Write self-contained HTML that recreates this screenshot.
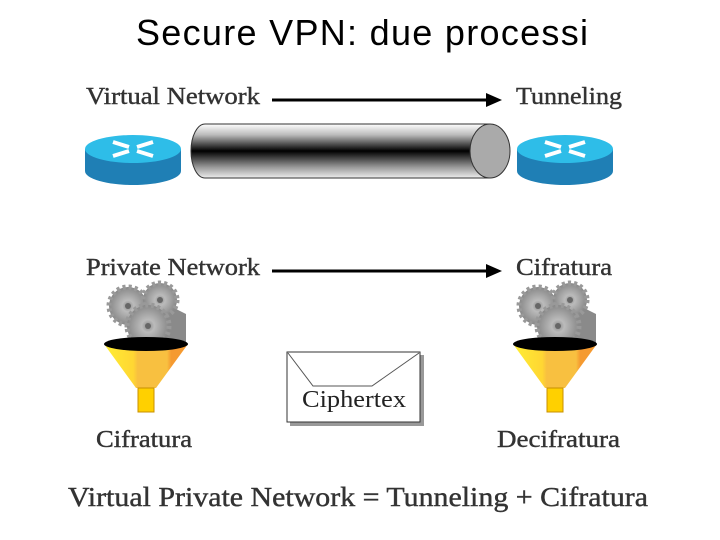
<!DOCTYPE html>
<html><head><meta charset="utf-8"><style>
html,body{margin:0;padding:0;background:#fff;}
svg{display:block}
</style></head><body>
<svg width="720" height="540" viewBox="0 0 720 540" xmlns="http://www.w3.org/2000/svg">
<defs>
<linearGradient id="tube" x1="0" y1="0" x2="0" y2="1">
<stop offset="0" stop-color="#fff"/><stop offset="0.2" stop-color="#bbb"/><stop offset="0.5" stop-color="#000"/><stop offset="0.8" stop-color="#999"/><stop offset="1" stop-color="#eee"/>
</linearGradient>
<linearGradient id="cone" x1="0" y1="0" x2="1" y2="0">
<stop offset="0" stop-color="#ffee33"/><stop offset="0.35" stop-color="#ffd633"/><stop offset="0.4" stop-color="#f8c040"/><stop offset="0.75" stop-color="#f8c040"/><stop offset="0.8" stop-color="#f59a30"/><stop offset="1" stop-color="#f59a30"/>
</linearGradient>
<radialGradient id="gear"><stop offset="0" stop-color="#888"/><stop offset="0.3" stop-color="#bbb"/><stop offset="1" stop-color="#888"/></radialGradient>
<g id="router">
<path d="M0 12 L0 34 A48 14 0 0 0 96 34 L96 12 Z" fill="#1f7fb5"/>
<ellipse cx="48" cy="12" rx="48" ry="14" fill="#2ebde8"/>
<path d="M28 5 L44 10 M28 19 L44 14 M68 5 L52 10 M68 19 L52 14" stroke="#fff" stroke-width="4"/>
</g>
<g id="gears">
<path d="M40 10 L80 30 L80 62 L50 62 Z" fill="#8a8a8a"/>
<circle cx="22" cy="22" r="19" fill="url(#gear)" stroke="#999" stroke-dasharray="3 3" stroke-width="5"/>
<circle cx="54" cy="16" r="17" fill="url(#gear)" stroke="#999" stroke-dasharray="3 3" stroke-width="5"/>
<circle cx="42" cy="42" r="21" fill="url(#gear)" stroke="#999" stroke-dasharray="3 3" stroke-width="5"/>
<circle cx="22" cy="22" r="3" fill="#666"/><circle cx="54" cy="16" r="3" fill="#666"/><circle cx="42" cy="42" r="3" fill="#666"/>
</g>
<g id="funnel">
<path d="M-42 0 L42 0 L10 44 L-10 44 Z" fill="url(#cone)"/>
<ellipse cx="0" cy="0" rx="42" ry="7" fill="#000"/>
<rect x="-8" y="44" width="16" height="24" fill="#ffd000" stroke="#c89000"/>
</g>
</defs>
<text x="362" y="45" text-anchor="middle" font-family="Liberation Sans Narrow, Liberation Sans, sans-serif" font-size="36" textLength="452">Secure VPN: due processi</text>
<g font-family="Liberation Serif, serif" font-size="24" fill="#333" stroke="#333" stroke-width="0.4">
<text x="86" y="104" textLength="174" lengthAdjust="spacingAndGlyphs">Virtual Network</text>
<text x="516" y="104" textLength="106" lengthAdjust="spacingAndGlyphs">Tunneling</text>
<text x="86" y="275" textLength="174" lengthAdjust="spacingAndGlyphs">Private Network</text>
<text x="516" y="275" textLength="96" lengthAdjust="spacingAndGlyphs">Cifratura</text>
<text x="96" y="447" textLength="96" lengthAdjust="spacingAndGlyphs">Cifratura</text>
<text x="497" y="447" textLength="123" lengthAdjust="spacingAndGlyphs">Decifratura</text>
<text x="68" y="506" font-size="27" textLength="580" lengthAdjust="spacingAndGlyphs">Virtual Private Network = Tunneling + Cifratura</text>
</g>
<path d="M272 100 H488" stroke="#000" stroke-width="3"/><path d="M486 93 L502 100 L486 107 Z"/>
<path d="M272 271 H488" stroke="#000" stroke-width="3"/><path d="M486 264 L502 271 L486 278 Z"/>
<use href="#router" x="85" y="137"/>
<use href="#router" x="517" y="137"/>
<path d="M205 124 H490 V178 H205 A14 27 0 0 1 205 124 Z" fill="url(#tube)" stroke="#333"/>
<ellipse cx="490" cy="151" rx="20" ry="27" fill="#aaa" stroke="#333"/>
<use href="#gears" x="106" y="284"/>
<use href="#gears" x="516" y="284"/>
<use href="#funnel" x="146" y="344"/>
<use href="#funnel" x="555" y="344"/>
<rect x="290" y="355" width="134" height="71" fill="#999"/>
<rect x="287" y="352" width="133" height="70" fill="#fff" stroke="#333"/>
<path d="M288 353 L313 386 H372 L419 353" fill="none" stroke="#555"/>
<text x="354" y="407" text-anchor="middle" font-family="Liberation Serif, serif" font-size="24" fill="#222" textLength="104" lengthAdjust="spacingAndGlyphs">Ciphertex</text>
</svg>
</body></html>
